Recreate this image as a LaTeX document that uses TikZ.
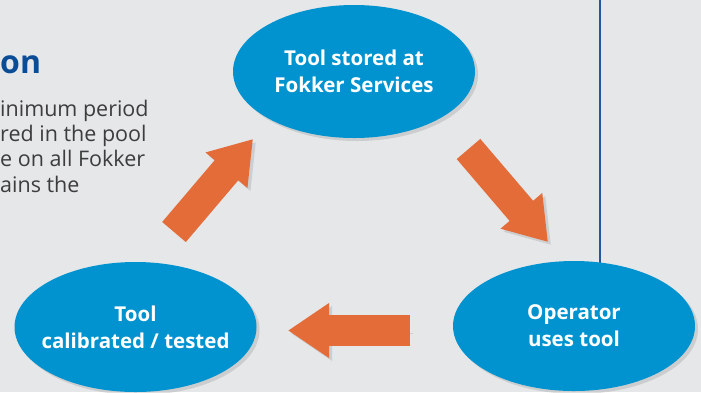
\documentclass[tikz,border=0pt]{standalone}
\usepackage{fontspec}
\usepackage{tikz}
\usetikzlibrary{arrows.meta,positioning,shapes,shadows,calc}
\newfontfamily\labelfont{Open Sans}
\definecolor{pagegrey}{HTML}{E6E7E9}
\definecolor{poolblue}{HTML}{0093D0}
\definecolor{cycleorange}{HTML}{E36C39}
\definecolor{headblue}{HTML}{0B4C96}
\definecolor{rulecol}{HTML}{2556A0}
\definecolor{bodygrey}{HTML}{3D3D3D}
\definecolor{shadegrey}{HTML}{CDCED0}
\tikzset{
  every stage/.style={
    shape=ellipse,
    fill=poolblue,
    text=white,
    inner sep=-20pt,
    minimum width=242pt,
    minimum height=130pt,
    align=center,
    font=\labelfont\bfseries\fontsize{20.5}{27}\selectfont,
    drop shadow={shadow xshift=3pt,shadow yshift=-3pt,opacity=0.25}
  },
  stage/.style={
    every stage
  },
  big arrow/.style={
    draw=cycleorange,
    line width=31pt,
    -{Triangle[length=41pt,width=52pt]},
    preaction={draw=shadegrey,-{Triangle[length=41pt,width=52pt]},
      transform canvas={shift={(3pt,-3pt)}}}
  },
  body text/.style={
    anchor=base west,
    inner sep=0pt,
    text=bodygrey,
    font=\labelfont\fontsize{21.5}{25}\selectfont
  }
}

\begin{document}
\begin{tikzpicture}[x=1pt,y=-1pt]
    \fill[pagegrey] (0,0) rectangle (701,392);
    \clip (0,0) rectangle (701,392);

    % text on the left, cut by the page
    \path{
      node[anchor=base west,inner sep=0pt,text=headblue,
           font=\labelfont\bfseries\fontsize{32}{40}\selectfont] (head) at (0,73) {on}
      node[body text] (p_1) at (0,116) {inimum period}
      node[body text] (p_2) at (0,141.5) {red in the pool}
      node[body text] (p_3) at (0,166.5) {e on all Fokker}
      node[body text] (p_4) at (0,192) {ains the}
    };

    \draw[rulecol,line width=1.3pt] (600,0) coordinate (r_0) -- (600,263) coordinate (r_1);

    \path{
      node[stage,minimum height=133pt] (stored) at (354,71.5) {Tool stored at\\Fokker Services}
      node[stage] (uses) at (574,326) {Operator\\uses tool}
      node[stage] (calib) at (135.5,327) {Tool\\calibrated / tested}
    };

    \path{
      coordinate (a_1) at (174,232) coordinate (b_1) at (253,139)
      coordinate (a_2) at (468.5,149) coordinate (b_2) at (548,242)
      coordinate (a_3) at (410,330.5) coordinate (b_3) at (288,330.5)
    };

    \path{
      (a_1) edge[big arrow] (b_1)
      (a_2) edge[big arrow] (b_2)
      (a_3) edge[big arrow] (b_3)
    };
\end{tikzpicture}
\end{document}
